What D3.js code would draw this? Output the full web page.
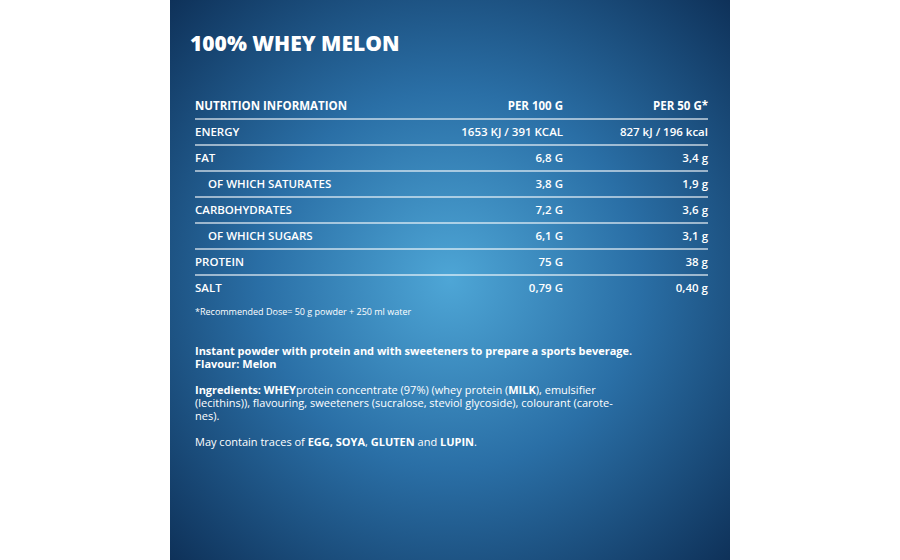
<!DOCTYPE html>
<meta charset="utf-8">
<head>
<style>
  body, html { margin: 0; background: #fff; }
  svg { display: block; font-family: "Open Sans", Lato, sans-serif; }
</style>
<script src="https://cdn.jsdelivr.net/npm/d3@7"></script>
</head>
<body>
<svg id="chart" width="900" height="560"></svg>
<script>
var nutrients = ["ENERGY", "FAT", "OF WHICH SATURATES", "CARBOHYDRATES", "OF WHICH SUGARS", "PROTEIN", "SALT"];
var indented = [false, false, true, false, true, false, false];
var per100 = ["1653 KJ / 391 KCAL", "6,8 G", "3,8 G", "7,2 G", "6,1 G", "75 G", "0,79 G"];
var per50 = ["827 kJ / 196 kcal", "3,4 g", "1,9 g", "3,6 g", "3,1 g", "38 g", "0,40 g"];
var headers = ["NUTRITION INFORMATION", "PER 100 G", "PER 50 G*"];

var svg = d3.select("#chart");

// background panel with radial glow
var defs = svg.append("defs");
var grad = defs.append("radialGradient").attr("id", "bg")
    .attr("gradientUnits", "userSpaceOnUse")
    .attr("cx", 450).attr("cy", 280).attr("r", 420);
grad.append("stop").attr("offset", "0%").attr("stop-color", "#4ea6d6");
grad.append("stop").attr("offset", "45%").attr("stop-color", "#2a6fa6");
grad.append("stop").attr("offset", "100%").attr("stop-color", "#0b2a50");
svg.append("rect").attr("x", 170).attr("y", 0).attr("width", 560).attr("height", 560)
    .attr("fill", "url(#bg)");

svg.append("text").attr("x", 190).attr("y", 51)
    .attr("fill", "#fff").attr("font-size", 21).attr("font-weight", 800)
    .text("100% WHEY MELON");

var y = d3.scaleBand().domain(d3.range(nutrients.length + 1)).range([93, 301]);
var colX = [195, 563, 708];

var rows = svg.append("g").selectAll("g")
    .data([headers].concat(nutrients.map(function(n, i){ return [n, per100[i], per50[i]]; })))
    .join("g")
    .attr("transform", function(d, i){ return "translate(0," + y(i) + ")"; });

rows.each(function(d, i){
    var g = d3.select(this);
    d.forEach(function(t, c){
        g.append("text")
            .attr("x", colX[c] + (c === 0 && i > 0 && indented[i - 1] ? 13 : 0))
            .attr("y", y.bandwidth() / 2 + 4)
            .attr("text-anchor", c === 0 ? "start" : "end")
            .attr("fill", "#fff").attr("font-size", 11.5)
            .attr("font-weight", i === 0 ? 700 : 600)
            .text(t);
    });
    if (i < nutrients.length) {
        g.append("line").attr("x1", 195).attr("x2", 708)
            .attr("y1", y.bandwidth()).attr("y2", y.bandwidth())
            .attr("stroke", "#fff").attr("stroke-opacity", 0.75).attr("stroke-width", 1.5);
    }
});

svg.append("text").attr("x", 195).attr("y", 315)
    .attr("fill", "#fff").attr("font-size", 9).attr("font-weight", 400)
    .text("*Recommended Dose= 50 g powder + 250 ml water");

var para = [
    [[{t: "Instant powder with protein and with sweeteners to prepare a sports beverage.", b: true}], 355],
    [[{t: "Flavour: Melon", b: true}], 368],
    [[{t: "Ingredients: WHEY", b: true}, {t: "protein concentrate (97%) (whey protein (", b: false}, {t: "MILK", b: true}, {t: "), emulsifier", b: false}], 394],
    [[{t: "(lecithins)), flavouring, sweeteners (sucralose, steviol glycoside), colourant (carote-", b: false}], 407],
    [[{t: "nes).", b: false}], 420],
    [[{t: "May contain traces of ", b: false}, {t: "EGG, SOYA", b: true}, {t: ", ", b: false}, {t: "GLUTEN", b: true}, {t: " and ", b: false}, {t: "LUPIN", b: true}, {t: ".", b: false}], 446]
];
para.forEach(function(p){
    var t = svg.append("text").attr("x", 195).attr("y", p[1])
        .attr("fill", "#fff").attr("font-size", 11);
    p[0].forEach(function(s){
        t.append("tspan").attr("font-weight", s.b ? 700 : 400).text(s.t);
    });
});
</script>
</body>
